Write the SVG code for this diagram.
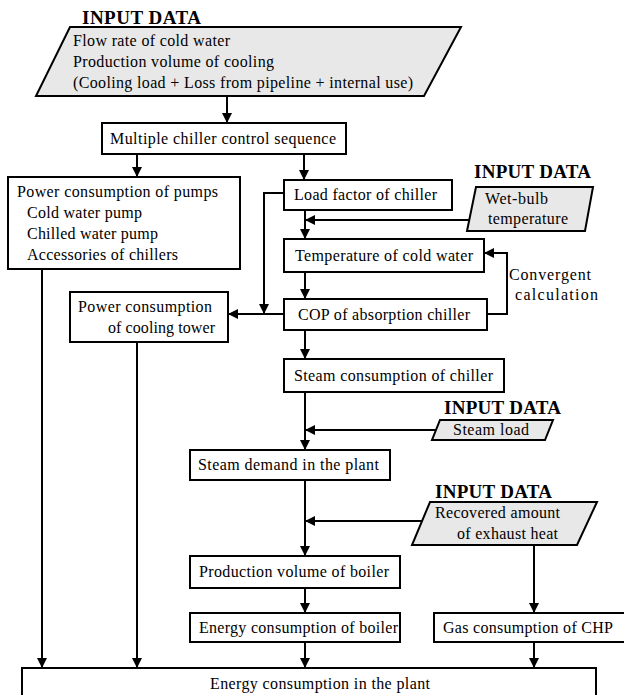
<svg xmlns="http://www.w3.org/2000/svg" width="624" height="695" viewBox="0 0 624 695">
<defs>
<marker id="ah" markerUnits="userSpaceOnUse" markerWidth="10" markerHeight="10" refX="10" refY="5" orient="auto" viewBox="0 0 10 10">
<path d="M0,0 L10,5 L0,10 z" fill="#000"/>
</marker>
<style>
.box{fill:#fff;stroke:#000;stroke-width:2}
.io{fill:#e8e8e8;stroke:#000;stroke-width:2}
.t{font-family:"Liberation Serif","Times New Roman",serif;font-size:16px;fill:#000}
.h{font-family:"Liberation Serif","Times New Roman",serif;font-size:19px;font-weight:bold;fill:#000}
.c{fill:none;stroke:#000;stroke-width:2}
.a{marker-end:url(#ah)}
</style>
</defs>
<rect width="624" height="695" fill="#fff"/>

<g id="connectors">
<path class="c a" d="M227,96 V123"/>
<path class="c a" d="M137,154 V177"/>
<path class="c a" d="M304,154 V180"/>
<path class="c a" d="M305,210 V239"/>
<path class="c a" d="M469,220 H305"/>
<path class="c" d="M283,193 H264 V304"/>
<path class="c a" d="M264,296 V314"/>
<path class="c a" d="M305,272 V299"/>
<path class="c a" d="M283,314 H228"/>
<path class="c a" d="M487,314 H507 V253 H484"/>
<path class="c a" d="M305,330 V359"/>
<path class="c a" d="M305,392 V450"/>
<path class="c a" d="M436,430 H305"/>
<path class="c a" d="M305,480 V556"/>
<path class="c a" d="M422,521 H305"/>
<path class="c a" d="M305,588 V613"/>
<path class="c a" d="M305,642 V668"/>
<path class="c a" d="M534,545 V613"/>
<path class="c a" d="M534,642 V668"/>
<path class="c a" d="M42,269 V668"/>
<path class="c a" d="M137,342 V668"/>
</g>

<g id="input-cooling">
<text class="h" x="82" y="24" textLength="119">INPUT DATA</text>
<polygon class="io" points="70,27 461,27 424,96 36,96"/>
<text class="t" x="73" y="46" textLength="157">Flow rate of cold water</text>
<text class="t" x="73" y="67" textLength="201">Production volume of cooling</text>
<text class="t" x="73" y="88" textLength="340">(Cooling load + Loss from pipeline + internal use)</text>
</g>

<g id="multiple-chiller">
<rect class="box" x="102" y="123" width="244" height="31"/>
<text class="t" x="110" y="144" textLength="226">Multiple chiller control sequence</text>
</g>

<g id="pumps">
<rect class="box" x="8" y="177" width="232" height="92"/>
<text class="t" x="17" y="197" textLength="201">Power consumption of pumps</text>
<text class="t" x="27" y="218" textLength="115">Cold water pump</text>
<text class="t" x="27" y="239" textLength="131">Chilled water pump</text>
<text class="t" x="27" y="260" textLength="151">Accessories of chillers</text>
</g>

<g id="load-factor">
<rect class="box" x="284" y="180" width="168" height="30"/>
<text class="t" x="294" y="200" textLength="143">Load factor of chiller</text>
</g>

<g id="input-wetbulb">
<text class="h" x="474" y="178" textLength="117">INPUT DATA</text>
<polygon class="io" points="476,187 593,187 585,231 467,231"/>
<text class="t" x="485" y="204" textLength="63">Wet-bulb</text>
<text class="t" x="488" y="224" textLength="80">temperature</text>
</g>

<g id="temperature">
<rect class="box" x="284" y="239" width="200" height="33"/>
<text class="t" x="295" y="261" textLength="178">Temperature of cold water</text>
</g>

<g id="convergent-label">
<text class="t" x="509" y="280" textLength="82">Convergent</text>
<text class="t" x="515" y="300" textLength="83">calculation</text>
</g>

<g id="cooling-tower">
<rect class="box" x="70" y="292" width="158" height="50"/>
<text class="t" x="78" y="312" textLength="134">Power consumption</text>
<text class="t" x="108" y="333" textLength="107">of cooling tower</text>
</g>

<g id="cop">
<rect class="box" x="284" y="299" width="203" height="31"/>
<text class="t" x="298" y="320" textLength="172">COP of absorption chiller</text>
</g>

<g id="steam-chiller">
<rect class="box" x="284" y="359" width="220" height="33"/>
<text class="t" x="294" y="381" textLength="199">Steam consumption of chiller</text>
</g>

<g id="input-steam">
<text class="h" x="444" y="414" textLength="117">INPUT DATA</text>
<polygon class="io" points="440,420 553,420 545,440 432,440"/>
<text class="t" x="453" y="435" textLength="76">Steam load</text>
</g>

<g id="steam-demand">
<rect class="box" x="190" y="450" width="200" height="30"/>
<text class="t" x="198" y="470" textLength="181">Steam demand in the plant</text>
</g>

<g id="input-exhaust">
<text class="h" x="435" y="498" textLength="117">INPUT DATA</text>
<polygon class="io" points="430,502 597,502 577,545 412,545"/>
<text class="t" x="435" y="518" textLength="125">Recovered amount</text>
<text class="t" x="457" y="539" textLength="101">of exhaust heat</text>
</g>

<g id="production-boiler">
<rect class="box" x="190" y="556" width="210" height="32"/>
<text class="t" x="199" y="577" textLength="190">Production volume of boiler</text>
</g>

<g id="energy-boiler">
<rect class="box" x="190" y="613" width="210" height="29"/>
<text class="t" x="199" y="633" textLength="199">Energy consumption of boiler</text>
</g>

<g id="gas-chp">
<rect class="box" x="434" y="613" width="194" height="29"/>
<text class="t" x="443" y="633" textLength="170">Gas consumption of CHP</text>
</g>

<g id="energy-plant">
<rect class="box" x="22" y="668" width="574" height="40"/>
<text class="t" x="210" y="689" textLength="220">Energy consumption in the plant</text>
</g>
</svg>
